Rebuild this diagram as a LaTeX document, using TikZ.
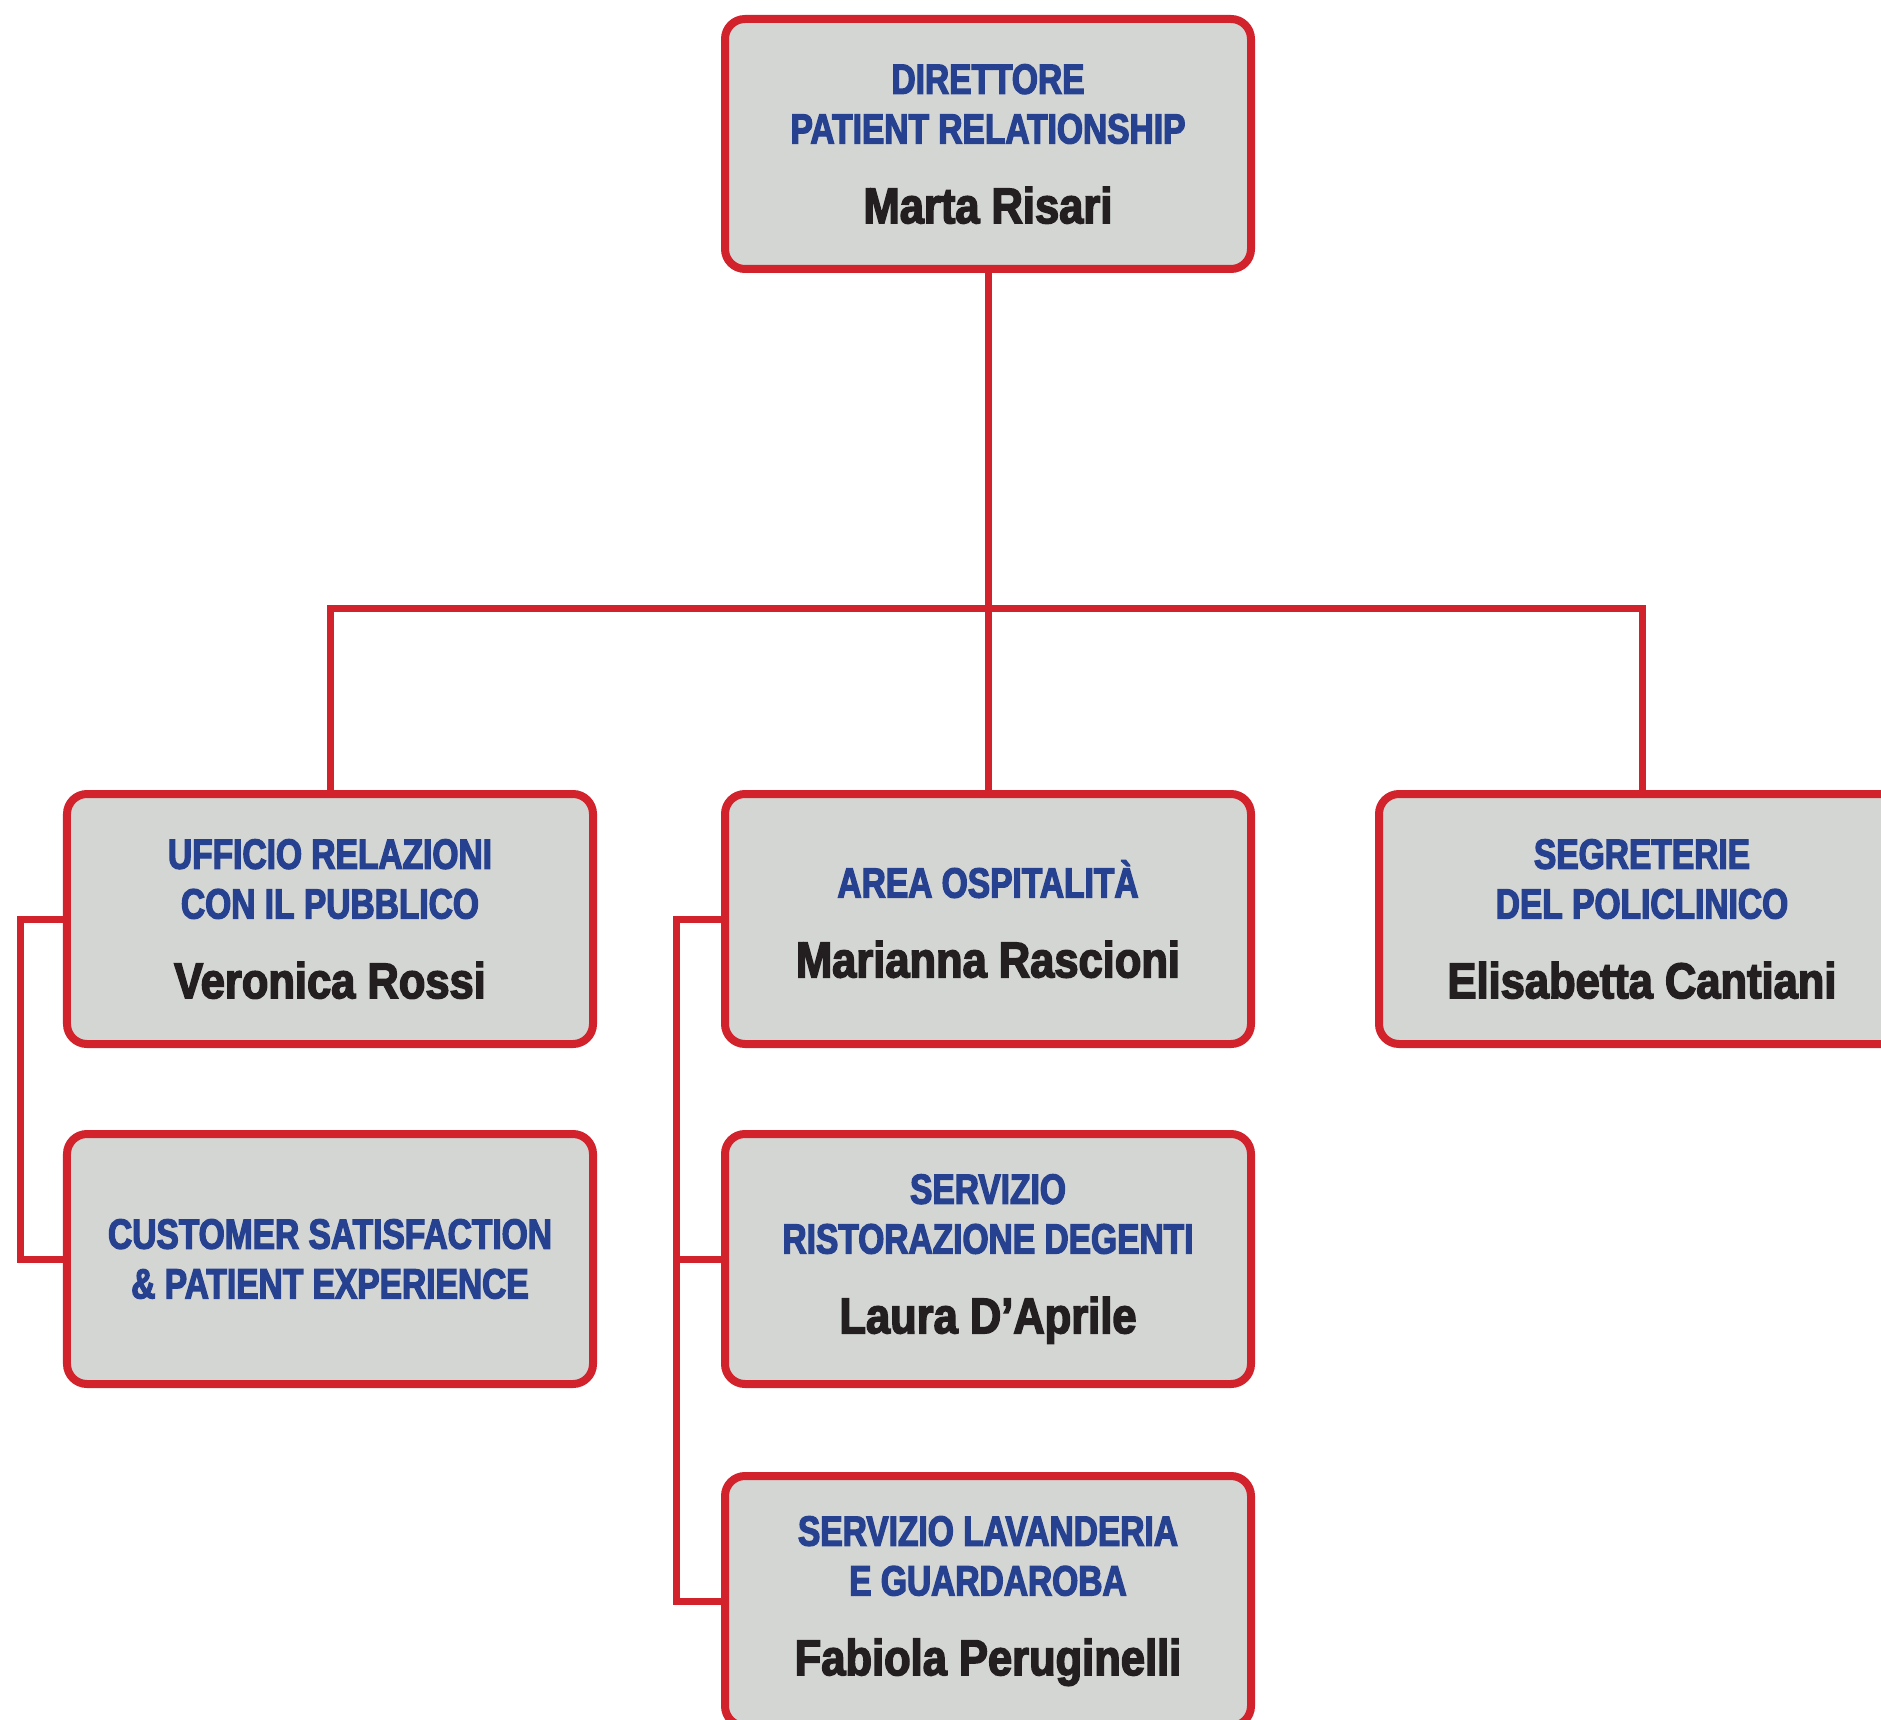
\documentclass[tikz,border=0pt]{standalone}
\usepackage{fontspec}
\usepackage{tikz}
\usetikzlibrary{calc}
\newfontfamily\unitfont{Liberation Sans}[FakeStretch=0.795,FakeBold=3]
\newfontfamily\headfont{Liberation Sans}[FakeStretch=0.865,FakeBold=3]
\definecolor{orgred}{HTML}{D2232D}
\definecolor{orggray}{HTML}{D4D6D3}
\definecolor{orgblue}{HTML}{26418F}
\definecolor{orgblack}{HTML}{231F20}
\def\headname#1{{\headfont\bfseries\fontsize{28.6}{34}\selectfont\color{orgblack}#1}}
\tikzset{
	unitbox/.style={draw=orgred, line width=1.6mm, fill=orggray, rounded corners=4mm,
		minimum width=105.2mm, minimum height=50mm, inner sep=0pt, align=center,
		text=orgblue, font=\unitfont\bfseries\fontsize{24}{28.3}\selectfont},
	link/.style={draw=orgred, line width=1.4mm}
}

\begin{document}
\begin{tikzpicture}[x=0.2mm,y=-0.2mm]
			%%%%% START %%%%%
			
			\useasboundingbox (0,0) rectangle (1881,1720);
			\coordinate (bus) at (987,608);
			\coordinate (lbr) at (20,0);
			\coordinate (mbr) at (676,0);
			
			\node[unitbox] (dir) at (988,144) {DIRETTORE\\PATIENT RELATIONSHIP\\[17.1pt]\headname{Marta Risari}};
			
			\node[unitbox] (urp) at (330,919) {UFFICIO RELAZIONI\\CON IL PUBBLICO\\[17.1pt]\headname{Veronica Rossi}};
			\node[unitbox] (osp) at (988,919) {AREA OSPITALITÀ\\[17.1pt]\headname{Marianna Rascioni}};
			\node[unitbox] (segr) at (1642,919) {SEGRETERIE\\DEL POLICLINICO\\[17.1pt]\headname{Elisabetta Cantiani}};
			
			\node[unitbox] (cust) at (330,1259) {CUSTOMER SATISFACTION\\\& PATIENT EXPERIENCE};
			\node[unitbox] (rist) at (988,1259) {SERVIZIO\\RISTORAZIONE DEGENTI\\[17.1pt]\headname{Laura D’Aprile}};
			\node[unitbox] (lav) at (988,1601) {SERVIZIO LAVANDERIA\\E GUARDAROBA\\[17.1pt]\headname{Fabiola Peruginelli}};
			
			\draw[link] (dir.south) -- (osp.north);
			\draw[link] (urp.north) |- (bus) -| (segr.north);
			
			\draw[link] (urp.west) -- (urp.west -| lbr) |- (cust.west);
			\draw[link] (osp.west) -- (osp.west -| mbr) |- (lav.west);
			\draw[link] (rist.west) -- (rist.west -| mbr);
			
			%%%%% END %%%%%
\end{tikzpicture}
\end{document}
